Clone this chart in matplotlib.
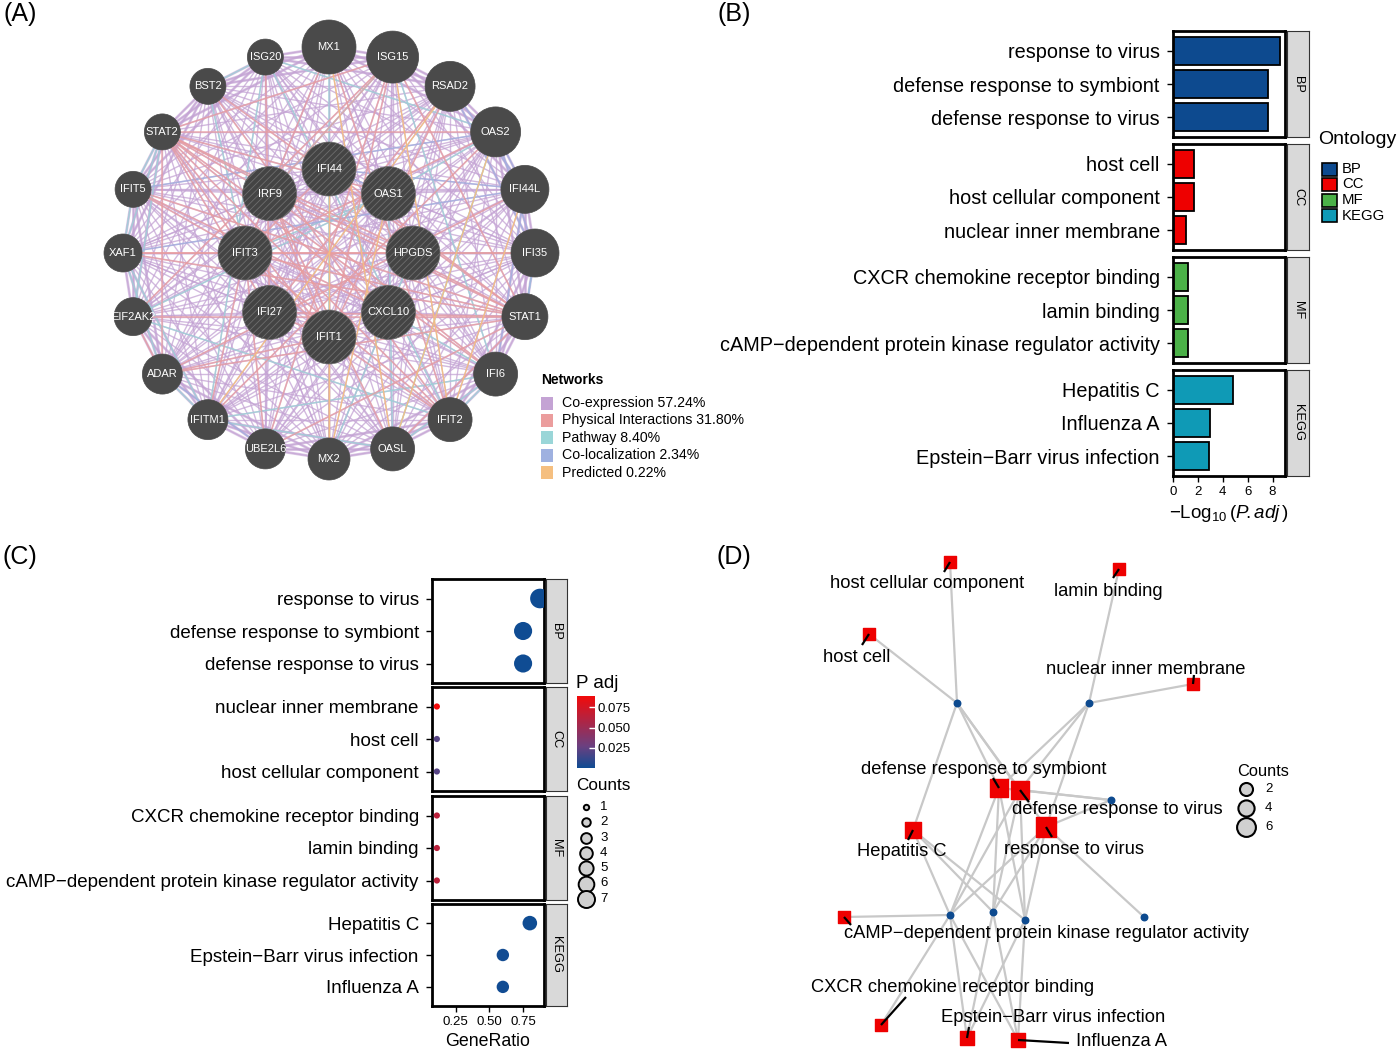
import numpy as np
import matplotlib
matplotlib.use("Agg")
import matplotlib.pyplot as plt
from matplotlib.patches import Circle, Rectangle
from matplotlib.collections import LineCollection
from matplotlib.colors import LinearSegmentedColormap, Normalize
from matplotlib.cm import ScalarMappable

plt.rcParams['font.family'] = ['Liberation Sans', 'DejaVu Sans']
plt.rcParams['hatch.linewidth'] = 0.6
plt.rcParams['mathtext.fontset'] = 'custom'
plt.rcParams['mathtext.rm'] = 'Liberation Sans'
plt.rcParams['mathtext.it'] = 'Liberation Sans:italic'

W, H = 1400, 1054

# ---------------- panel A: GeneMANIA network ----------------
outer_genes = ['MX1', 'ISG15', 'RSAD2', 'OAS2', 'IFI44L', 'IFI35', 'STAT1', 'IFI6', 'IFIT2', 'OASL',
               'MX2', 'UBE2L6', 'IFITM1', 'ADAR', 'EIF2AK2', 'XAF1', 'IFIT5', 'STAT2', 'BST2', 'ISG20']
outer_size = [27, 26, 25, 25, 24, 24, 23, 22, 22, 22, 21, 20, 20, 20, 19, 19, 18, 18, 18, 18]
inner_genes = ['IFI44', 'OAS1', 'HPGDS', 'CXCL10', 'IFIT1', 'IFI27', 'IFIT3', 'IRF9']
inner_size = [27, 27, 27, 27, 27, 27, 27, 27]

net_types = ['Co-expression', 'Physical Interactions', 'Pathway', 'Co-localization', 'Predicted']
net_pct = [57.24, 31.80, 8.40, 2.34, 0.22]
net_colors = ['#c4a3d4', '#eb9d9d', '#9ad6d8', '#9fb1e0', '#f5bf80']

physical_edges = [('STAT2', 'IRF9'), ('STAT2', 'IFIT3'), ('STAT2', 'IFI27'), ('STAT2', 'IFIT1'),
                  ('STAT2', 'STAT1'), ('STAT2', 'OAS2'), ('STAT2', 'IFI6'), ('STAT2', 'IFIT2'),
                  ('STAT2', 'CXCL10'), ('STAT2', 'ISG15'), ('STAT2', 'OAS1'), ('STAT2', 'ADAR'),
                  ('STAT1', 'IRF9'), ('STAT1', 'IFIT3'), ('STAT1', 'XAF1'), ('STAT1', 'ISG15'),
                  ('STAT1', 'IFI44'), ('STAT1', 'EIF2AK2'), ('STAT1', 'BST2'), ('STAT1', 'ADAR'),
                  ('STAT1', 'OASL'), ('STAT1', 'IFI27'), ('STAT1', 'IFIT5'), ('STAT1', 'UBE2L6'),
                  ('IFIT3', 'IFIT1'), ('IFIT3', 'IFIT2'), ('IFIT1', 'IFIT2'), ('IFIT3', 'IFIT5'),
                  ('IFIT3', 'IFI44'), ('IFIT3', 'MX1'), ('IFIT3', 'UBE2L6'), ('IFIT3', 'IFITM1'),
                  ('IFIT3', 'XAF1'), ('IFIT3', 'OAS2'), ('IFIT3', 'IFI35'), ('ISG15', 'IFIT1'),
                  ('ISG15', 'UBE2L6'), ('ISG15', 'EIF2AK2'), ('ISG15', 'IRF9'), ('IRF9', 'IFIT1'),
                  ('IRF9', 'OASL'), ('IRF9', 'IFI6'), ('EIF2AK2', 'ADAR'), ('IFI27', 'IFIT1'),
                  ('IFIT1', 'ADAR'), ('IFIT1', 'RSAD2'), ('IFIT1', 'MX2'), ('BST2', 'IFIT2'),
                  ('ISG20', 'IFI27'), ('MX1', 'IFIT2'), ('RSAD2', 'IFI27'), ('OAS2', 'IFITM1'),
                  ('IFI44L', 'ADAR'), ('IFI35', 'XAF1'), ('CXCL10', 'IFIT5'), ('HPGDS', 'STAT2')]
pathway_edges = [('OAS1', 'OAS2'), ('OAS1', 'OASL'), ('OAS2', 'OASL'), ('MX1', 'MX2'),
                 ('STAT2', 'XAF1'), ('STAT2', 'IFIT5'), ('STAT2', 'EIF2AK2'), ('EIF2AK2', 'OAS1'),
                 ('IFITM1', 'ISG20'), ('XAF1', 'ADAR'), ('IFI6', 'IFIT2'), ('IFI35', 'STAT1'),
                 ('ISG15', 'IRF9'), ('ISG20', 'OAS2'), ('IFIT5', 'XAF1'), ('ADAR', 'IFITM1'),
                 ('IFITM1', 'OASL'), ('IFI6', 'OASL'), ('IFI6', 'IFITM1'), ('BST2', 'ISG20'),
                 ('ISG15', 'IFI6'), ('XAF1', 'IFITM1'), ('EIF2AK2', 'IFIT2'), ('CXCL10', 'IFI6'),
                 ('HPGDS', 'MX2'), ('IFIT3', 'OAS1'), ('BST2', 'IFIT3'), ('ISG20', 'IFIT2')]
coloc_edges = [('IFI44', 'IFI44L'), ('RSAD2', 'IFI44L'), ('OAS2', 'IFI44L'), ('OAS1', 'IFI44'),
               ('IFI35', 'OAS2'), ('IFI35', 'HPGDS'), ('STAT1', 'IFI35'), ('ADAR', 'UBE2L6'),
               ('IFI44L', 'IFI6'), ('RSAD2', 'IFI35'), ('XAF1', 'IFI44L'), ('IFIT5', 'OAS2')]
predicted_edges = [('OAS1', 'MX2'), ('IFI44', 'MX2'), ('MX1', 'OASL'), ('ISG15', 'IFIT2'),
                   ('OAS2', 'OASL'), ('RSAD2', 'IFITM1'), ('IFI44L', 'IFIT2')]

# ---------------- panel B / C: enrichment ----------------
ontologies = ['BP', 'CC', 'MF', 'KEGG']
ont_colors = ['#0d4a8f', '#ee0000', '#4bb148', '#0f9ab6']

b_bp_terms = ['response to virus', 'defense response to symbiont', 'defense response to virus']
b_bp_logp = [8.6, 7.6, 7.6]
b_cc_terms = ['host cell', 'host cellular component', 'nuclear inner membrane']
b_cc_logp = [1.7, 1.7, 1.05]
b_mf_terms = ['CXCR chemokine receptor binding', 'lamin binding',
              'cAMP\u2212dependent protein kinase regulator activity']
b_mf_logp = [1.2, 1.2, 1.2]
b_kegg_terms = ['Hepatitis C', 'Influenza A', 'Epstein\u2212Barr virus infection']
b_kegg_logp = [4.8, 3.0, 2.9]

c_bp_terms = ['response to virus', 'defense response to symbiont', 'defense response to virus']
c_bp_ratio = [0.875, 0.75, 0.75]
c_bp_count = [7, 6, 6]
c_bp_padj = [2.5e-9, 2.5e-8, 2.5e-8]
c_cc_terms = ['nuclear inner membrane', 'host cell', 'host cellular component']
c_cc_ratio = [0.111, 0.111, 0.111]
c_cc_count = [1, 1, 1]
c_cc_padj = [0.089, 0.021, 0.021]
c_mf_terms = ['CXCR chemokine receptor binding', 'lamin binding',
              'cAMP\u2212dependent protein kinase regulator activity']
c_mf_ratio = [0.111, 0.111, 0.111]
c_mf_count = [1, 1, 1]
c_mf_padj = [0.063, 0.063, 0.063]
c_kegg_terms = ['Hepatitis C', 'Epstein\u2212Barr virus infection', 'Influenza A']
c_kegg_ratio = [0.8, 0.6, 0.6]
c_kegg_count = [4, 3, 3]
c_kegg_padj = [1.6e-5, 1.2e-3, 1.0e-3]

# ---------------- panel D: cnetplot (layout in figure pixels) ----------------
d_gene_x = [957, 1089, 1111, 950, 993, 1025, 1144]
d_gene_y = [703, 703, 800, 915, 912, 920, 917]
d_terms = ['host cellular component', 'lamin binding', 'host cell', 'nuclear inner membrane',
           'defense response to symbiont', 'defense response to virus', 'response to virus',
           'Hepatitis C', 'cAMP\u2212dependent protein kinase regulator activity',
           'CXCR chemokine receptor binding', 'Epstein\u2212Barr virus infection', 'Influenza A']
d_term_x = [950, 1119, 869, 1193, 999, 1020, 1046, 913, 844, 881, 967, 1018]
d_term_y = [562, 569, 634, 684, 788, 790, 827, 830, 917, 1025, 1038, 1040]
d_term_count = [1, 1, 1, 1, 6, 6, 7, 4, 1, 1, 3, 3]
d_label_x = [927, 1108, 857, 1146, 984, 1117, 1074, 902, 1047, 953, 1053, 1121]
d_label_y = [584, 591, 657, 669, 769, 809, 850, 852, 934, 987, 1017, 1041]
d_lead_x = [944, 1113, 862, 1194, 993, 1029, 1052, 908, 851, 906, 969, 1069]
d_lead_y = [572, 578, 645, 675, 778, 802, 837, 840, 925, 997, 1027, 1043]
d_edges = [(0, 0), (2, 0), (1, 1), (3, 1),
           (4, 0), (4, 1), (4, 2), (4, 3), (4, 4), (4, 5),
           (5, 0), (5, 1), (5, 2), (5, 3), (5, 4), (5, 5),
           (6, 0), (6, 1), (6, 2), (6, 3), (6, 4), (6, 5), (6, 6),
           (7, 0), (7, 3), (7, 4), (7, 5),
           (8, 3), (9, 3),
           (10, 3), (10, 4), (10, 5),
           (11, 3), (11, 4), (11, 5)]


def px_box(x0, y0, x1, y1):
    return [x0 / W, 1 - y1 / H, (x1 - x0) / W, (y1 - y0) / H]


def add_strip(x0, y0, x1, y1, label):
    s = fig.add_axes(px_box(x0, y0, x1, y1))
    s.set_facecolor('#d9d9d9')
    s.set_xticks([])
    s.set_yticks([])
    for sp in s.spines.values():
        sp.set_color('#333333')
        sp.set_linewidth(0.8)
    s.text(0.5, 0.5, label, rotation=270, ha='center', va='center', fontsize=9.2,
           transform=s.transAxes)


def c_size(n):
    return 30 * np.asarray(n, dtype=float) - 10


def d_size(n):
    return 24 * np.asarray(n, dtype=float) + 40


fig = plt.figure(figsize=(W / 100, H / 100), dpi=100)
ax0 = fig.add_axes([0, 0, 1, 1])
ax0.set_xlim(0, W)
ax0.set_ylim(H, 0)
ax0.axis('off')

# panel letters
for lab, x, y in [('(A)', 20, 14), ('(B)', 734, 14), ('(C)', 20, 557), ('(D)', 734, 557)]:
    ax0.text(x, y, lab, fontsize=18, ha='center', va='center')

# ---------- panel A ----------
cx, cy, r_out, r_in = 329, 253, 206, 84
pos = {}
for i, g in enumerate(outer_genes):
    a = np.deg2rad(90 - 360 * i / len(outer_genes))
    pos[g] = (cx + r_out * np.cos(a), cy - r_out * np.sin(a))
for i, g in enumerate(inner_genes):
    a = np.deg2rad(90 - 360 * i / len(inner_genes))
    pos[g] = (cx + r_in * np.cos(a), cy - r_in * np.sin(a))

all_genes = outer_genes + inner_genes
coexp = [(all_genes[i], all_genes[j]) for i in range(len(all_genes)) for j in range(i + 1, len(all_genes))]
# outer ring neighbours drawn again to give the dense purple rim
rim = [(outer_genes[i], outer_genes[(i + d) % 20]) for i in range(20) for d in (1, 2, 3)]
for edges, col, lw, al in [(coexp, net_colors[0], 1.0, 0.75), (rim, net_colors[0], 2.0, 0.6),
                           (pathway_edges, net_colors[2], 1.1, 0.75),
                           (coloc_edges, net_colors[3], 1.1, 0.75), (physical_edges, net_colors[1], 1.2, 0.7),
                           (predicted_edges, net_colors[4], 1.0, 0.9)]:
    segs = [[pos[a], pos[b]] for a, b in edges]
    ax0.add_collection(LineCollection(segs, colors=col, linewidths=lw, alpha=al, zorder=1))

for g, r in zip(outer_genes, outer_size):
    ax0.add_patch(Circle(pos[g], r, facecolor='#4a4a4a', edgecolor='#4a4a4a', lw=0.5, zorder=3))
    ax0.text(*pos[g], g, color='white', fontsize=8, ha='center', va='center', zorder=4)
for g, r in zip(inner_genes, inner_size):
    ax0.add_patch(Circle(pos[g], r, facecolor='#444444', edgecolor='#6e6e6e', lw=0.5,
                         hatch='/////', zorder=3))
    ax0.text(*pos[g], g, color='white', fontsize=8, ha='center', va='center', zorder=4)

ax0.text(541, 380, 'Networks', fontsize=10, fontweight='bold', ha='left', va='center')
for k, (nm, pc, col) in enumerate(zip(net_types, net_pct, net_colors)):
    yy = 403 + k * 17.4
    ax0.add_patch(Rectangle((541, yy - 6.5), 12, 13, facecolor=col, edgecolor='none'))
    ax0.text(562, yy, f'{nm} {pc:.2f}%', fontsize=10.2, ha='left', va='center')

# ---------- panel B ----------
b_rows = [(31, 137), (144, 250), (257, 363), (370, 476)]
b_terms = [b_bp_terms, b_cc_terms, b_mf_terms, b_kegg_terms]
b_vals = [b_bp_logp, b_cc_logp, b_mf_logp, b_kegg_logp]
for k in range(4):
    ax = fig.add_axes(px_box(1173, b_rows[k][0], 1285, b_rows[k][1]))
    y = np.arange(len(b_terms[k]))
    ax.barh(y, b_vals[k], height=0.85, color=ont_colors[k], edgecolor='black', linewidth=1.3)
    ax.set_ylim(len(y) - 0.4, -0.6)
    ax.set_xlim(0, 9.0)
    ax.set_yticks(y)
    ax.set_yticklabels(b_terms[k], fontsize=14.3)
    ax.tick_params(axis='y', length=4.5, width=1, pad=5)
    for sp in ax.spines.values():
        sp.set_linewidth(2)
    if k < 3:
        ax.set_xticks([])
    else:
        ax.set_xticks([0, 2, 4, 6, 8])
        ax.tick_params(axis='x', length=4, width=1, labelsize=9.5, pad=3)
        ax.set_xlabel(r'$-\mathrm{Log}_{10}\,(\mathit{P}\!.\mathit{adj}\,)$', fontsize=13.5, labelpad=4)
    add_strip(1287, b_rows[k][0], 1309, b_rows[k][1], ontologies[k])

ax0.text(1318, 140, 'Ontology', fontsize=14, ha='left', va='center')
for k, (o, col) in enumerate(zip(ontologies, ont_colors)):
    yy = 169 + k * 15.5
    ax0.add_patch(Rectangle((1322, yy - 6.5), 15, 13, facecolor=col, edgecolor='black', lw=1.2))
    ax0.text(1342, yy, o, fontsize=10.7, ha='left', va='center')

# ---------- panel C ----------
cmap = LinearSegmentedColormap.from_list('padj', [(0, '#0f4c93'), (0.3, '#6a4080'), (1, '#f20a0a')])
norm = Normalize(0.0, 0.089)
c_rows = [(579, 683), (687, 791), (796, 900), (904, 1006)]
c_terms = [c_bp_terms, c_cc_terms, c_mf_terms, c_kegg_terms]
c_ratio = [c_bp_ratio, c_cc_ratio, c_mf_ratio, c_kegg_ratio]
c_count = [c_bp_count, c_cc_count, c_mf_count, c_kegg_count]
c_padj = [c_bp_padj, c_cc_padj, c_mf_padj, c_kegg_padj]
for k in range(4):
    ax = fig.add_axes(px_box(432, c_rows[k][0], 544, c_rows[k][1]))
    y = np.arange(len(c_terms[k]))
    ax.scatter(c_ratio[k], y, s=c_size(c_count[k]), c=c_padj[k], cmap=cmap, norm=norm,
               edgecolors='none', zorder=3)
    ax.set_ylim(len(y) - 0.4, -0.6)
    ax.set_xlim(0.075, 0.905)
    ax.set_yticks(y)
    ax.set_yticklabels(c_terms[k], fontsize=13.5)
    ax.tick_params(axis='y', length=4.5, width=1, pad=5)
    for sp in ax.spines.values():
        sp.set_linewidth(2)
    if k < 3:
        ax.set_xticks([])
    else:
        ax.set_xticks([0.25, 0.5, 0.75])
        ax.set_xticklabels(['0.25', '0.50', '0.75'])
        ax.tick_params(axis='x', length=4, width=1, labelsize=9.5, pad=3)
        ax.set_xlabel('GeneRatio', fontsize=12.8, labelpad=4)
    add_strip(546, c_rows[k][0], 567, c_rows[k][1], ontologies[k])

ax0.text(576, 683, 'P adj', fontsize=13.5, ha='left', va='center')
cax = fig.add_axes(px_box(577, 696, 595, 768))
cb = fig.colorbar(ScalarMappable(norm=norm, cmap=cmap), cax=cax, ticks=[0.025, 0.05, 0.075])
cb.ax.set_yticklabels(['0.025', '0.050', '0.075'])
cb.outline.set_visible(False)
cb.ax.tick_params(labelsize=9.5, color='white', direction='in', length=4, width=1, pad=2)

ax0.text(576, 786, 'Counts', fontsize=12.3, ha='left', va='center')
for k, n in enumerate([1, 2, 3, 4, 5, 6, 7]):
    yy = 807 + k * 15.3
    ax0.scatter([586], [yy], s=c_size(n) * 0.75, facecolor='#d0d0d0', edgecolor='black', lw=1.4, zorder=5)
    ax0.text(600, yy, str(n), fontsize=9.5, ha='left', va='center')

# ---------- panel D ----------
segs = [[(d_term_x[t], d_term_y[t]), (d_gene_x[g], d_gene_y[g])] for t, g in d_edges]
ax0.add_collection(LineCollection(segs, colors='#c8c8c8', linewidths=1.6, zorder=2))
ax0.scatter(d_gene_x, d_gene_y, s=22, color='#0d4a8f', zorder=3)
ax0.scatter(d_term_x, d_term_y, s=d_size(d_term_count), marker='s', color='#ee0000', zorder=3)
lead = [[(d_term_x[i], d_term_y[i]), (d_lead_x[i], d_lead_y[i])] for i in range(len(d_terms))]
ax0.add_collection(LineCollection(lead, colors='black', linewidths=1.6, zorder=4))
for i, t in enumerate(d_terms):
    ax0.text(d_label_x[i], d_label_y[i], t, fontsize=13.2, ha='center', va='center', zorder=5)

ax0.text(1263, 772, 'Counts', fontsize=11.8, ha='center', va='center')
for k, n in enumerate([2, 4, 6]):
    yy = 789 + k * 19
    ax0.scatter([1246], [yy], s=d_size(n), facecolor='#d0d0d0', edgecolor='black', lw=1.5, zorder=5)
    ax0.text(1265, yy, str(n), fontsize=9.5, ha='left', va='center')

fig.savefig('out.png', dpi=100)
